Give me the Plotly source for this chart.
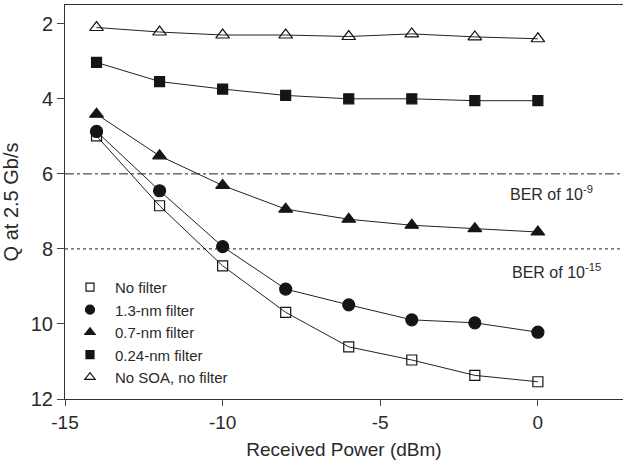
import plotly.graph_objects as go

power = [-14, -12, -10, -8, -6, -4, -2, 0]
no_filter = [4.99, 6.85, 8.45, 9.69, 10.61, 10.96, 11.37, 11.54]
filt_13 = [4.87, 6.45, 7.94, 9.07, 9.49, 9.89, 9.97, 10.22]
filt_07 = [4.41, 5.52, 6.31, 6.94, 7.21, 7.37, 7.46, 7.55]
filt_024 = [3.03, 3.54, 3.74, 3.91, 4.0, 4.0, 4.05, 4.05]
no_soa = [2.10, 2.22, 2.30, 2.30, 2.34, 2.27, 2.35, 2.40]
series_names = ["No filter", "1.3-nm filter", "0.7-nm filter", "0.24-nm filter", "No SOA, no filter"]
ber_levels = [6, 8]
ber_labels = ["BER of 10<sup>-9</sup>", "BER of 10<sup>-15</sup>"]
x_ticks = [-15, -10, -5, 0]
x_ticktext = ["-15", "-10", "-5", "0"]
y_ticks = [2, 4, 6, 8, 10, 12]

series = [no_filter, filt_13, filt_07, filt_024, no_soa]
symbols = ["square-open", "circle", "triangle-up", "square", "triangle-up-open"]
sizes = [10, 12, 12, 10, 12]
legend_sizes = [8, 9, 9, 8, 9]
ink = "#151515"

fig = go.Figure()
for ys in series:
    fig.add_trace(go.Scatter(x=power, y=ys, mode="lines", line=dict(color="#222", width=1),
                             showlegend=False, hoverinfo="skip"))
for name, ys, sym, sz in zip(series_names, series, symbols, sizes):
    fig.add_trace(go.Scatter(x=power, y=ys, mode="markers", name=name, showlegend=False,
                             marker=dict(symbol=sym, size=sz, color=ink,
                                         line=dict(color=ink, width=1.2))))
# legend entries (smaller symbols, as in the reference)
for name, sym, sz in zip(series_names, symbols, legend_sizes):
    fig.add_trace(go.Scatter(x=[None], y=[None], mode="markers", name=name,
                             marker=dict(symbol=sym, size=sz, color=ink,
                                         line=dict(color=ink, width=1.2))))

fig.add_shape(type="line", xref="paper", x0=0, x1=1, yref="y", y0=ber_levels[0], y1=ber_levels[0],
              line=dict(color="#222", width=1, dash="dashdot"))
fig.add_shape(type="line", xref="paper", x0=0, x1=1, yref="y", y0=ber_levels[1], y1=ber_levels[1],
              line=dict(color="#222", width=1, dash="dot"))
fig.add_annotation(x=-0.95, y=ber_levels[0] + 0.5, text=ber_labels[0], showarrow=False,
                   font=dict(size=16, color="#2a2a2a"), xanchor="left", yanchor="middle")
fig.add_annotation(x=-0.9, y=ber_levels[1] + 0.6, text=ber_labels[1], showarrow=False,
                   font=dict(size=16, color="#2a2a2a"), xanchor="left", yanchor="middle")

fig.update_layout(
    width=623, height=469,
    margin=dict(l=65, r=0, t=5, b=70),
    plot_bgcolor="white", paper_bgcolor="white",
    font=dict(family="Liberation Sans, Arial, sans-serif", color="#2a2a2a"),
    legend=dict(x=0.0, y=0.325, xanchor="left", yanchor="top", bgcolor="rgba(0,0,0,0)",
                font=dict(size=15, color="#2a2a2a"), tracegroupgap=0, itemwidth=40),
    xaxis=dict(range=[-15, 2.7], tickvals=x_ticks, ticktext=x_ticktext, ticks="outside", ticklen=6,
               showline=True, linecolor="#333", linewidth=1, mirror=True, showgrid=False,
               zeroline=False, tickfont=dict(size=19),
               title=dict(text="Received Power (dBm)", font=dict(size=19), standoff=10)),
    yaxis=dict(range=[12, 1.5], tickvals=y_ticks, ticks="outside", ticklen=7,
               showline=True, linecolor="#333", linewidth=1, showgrid=False, zeroline=False,
               tickfont=dict(size=20),
               title=dict(text="Q at 2.5 Gb/s", font=dict(size=20), standoff=6)),
)
fig.write_html("out.html")
